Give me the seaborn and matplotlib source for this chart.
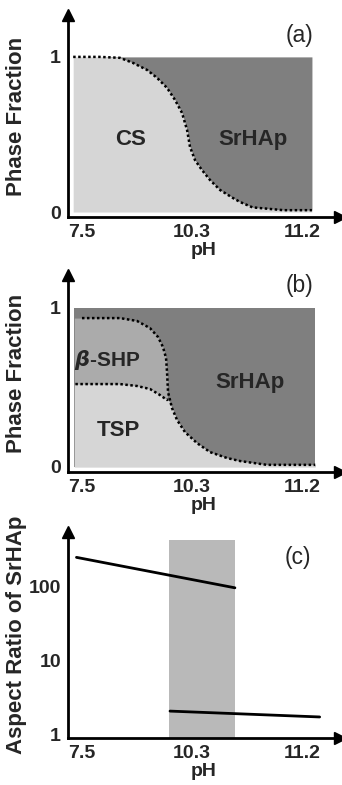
import numpy as np
import matplotlib
matplotlib.use("Agg")
import matplotlib.pyplot as plt
import seaborn as sns

# pH categories, drawn at equal spacing
ph_labels = ["7.5", "10.3", "11.2"]
ph_pos = [0, 1, 2]

# (a) CS / SrHAp boundary (x in pH-index units)
a_x = [-0.08, 0.16, 0.345, 0.464, 0.591, 0.682, 0.773, 0.845, 0.909, 0.955,
       0.982, 1.027, 1.09, 1.164, 1.255, 1.373, 1.436, 1.55, 1.83, 2.09]
a_cs = [1.0, 1.0, 0.994, 0.961, 0.916, 0.865, 0.80, 0.723, 0.639, 0.529,
        0.419, 0.335, 0.271, 0.206, 0.142, 0.09, 0.065, 0.03, 0.012, 0.012]

# (b) SrHAp boundary and TSP / beta-SHP boundary
b_x_top = [0.0, 0.164, 0.345, 0.50, 0.618, 0.691, 0.736, 0.764, 0.773, 0.782,
           0.782, 0.818, 0.864, 0.936, 1.045, 1.164, 1.318, 1.436, 1.68, 2.12]
b_top = [0.935, 0.935, 0.935, 0.917, 0.872, 0.816, 0.753, 0.684, 0.596, 0.514,
         0.425, 0.369, 0.294, 0.218, 0.149, 0.092, 0.055, 0.036, 0.012, 0.012]
b_x_low = [-0.06, 0.164, 0.345, 0.50, 0.618, 0.709, 0.773, 0.782]
b_low = [0.52, 0.52, 0.52, 0.508, 0.489, 0.451, 0.42, 0.425]

# (c) aspect ratio of SrHAp (log scale)
c1_x = [-0.05, 1.39]
c1_y = [250, 97]
c2_x = [0.80, 2.16]
c2_y = [2.1, 1.75]
band_x = [0.79, 1.39]
band_top = 430

light = "#d6d6d6"
mid = "#ababab"
dark = "#7f7f7f"
band_c = "#b9b9b9"

sns.set_style("white")
plt.rcParams["font.family"] = ["Liberation Sans", "DejaVu Sans"]
plt.rcParams["font.weight"] = "bold"

W, H = 342, 785
fig = plt.figure(figsize=(W / 100, H / 100), dpi=100)
TICK = 14
LAB = 16
DOT = (0, (1, 1))


def make_ax(x0, x1, ytop, ybot):
    return fig.add_axes([x0 / W, 1 - ybot / H, (x1 - x0) / W, (ybot - ytop) / H])


def style(ax, ylabel):
    sns.despine(ax=ax)
    for s in ["left", "bottom"]:
        ax.spines[s].set_linewidth(2)
        ax.spines[s].set_color("black")
    ax.plot(1, 0, ">k", ms=9, transform=ax.transAxes, clip_on=False)
    ax.plot(0, 1, "^k", ms=9, transform=ax.transAxes, clip_on=False)
    ax.set_xticks(ph_pos)
    ax.set_xticklabels(ph_labels, fontsize=TICK, fontweight="bold")
    ax.tick_params(length=0, pad=5)
    ax.set_xlabel("pH", fontsize=TICK, fontweight="bold", labelpad=1)
    ax.set_ylabel(ylabel, fontsize=LAB, fontweight="bold")
    ax.yaxis.set_label_coords(-0.15, 0.5)
    ax.set_xlim(-0.127, 2.345)


# ---- panel (a)
ax = make_ax(68, 340, 15, 217)
ax.fill_between(a_x, 0, a_cs, color=light, lw=0)
ax.fill_between(a_x, a_cs, 1, color=dark, lw=0)
sns.lineplot(x=a_x, y=a_cs, ax=ax, color="black", lw=1.8, linestyle=DOT, sort=False)
ax.set_ylim(-0.032, 1.27)
ax.set_yticks([0, 1])
ax.set_yticklabels(["0", "1"], fontsize=TICK, fontweight="bold")
ax.text(0.44, 0.465, "CS", fontsize=LAB, fontweight="bold", ha="center", va="center")
ax.text(1.55, 0.465, "SrHAp", fontsize=LAB, fontweight="bold", ha="center", va="center")
ax.text(1.98, 1.14, "(a)", fontsize=16.5, fontweight="normal", ha="center", va="center")
style(ax, "Phase Fraction")

# ---- panel (b)
ax = make_ax(68, 340, 275, 472)
ax.fill_between([-0.07, 2.12], 0, 1, color=dark, lw=0)
ax.fill_between([-0.07] + b_x_top, 0, [b_top[0]] + b_top, color=mid, lw=0)
low_x = [-0.07] + b_x_low + b_x_top[10:]
low_y = [b_low[0]] + b_low + b_top[10:]
ax.fill_between(low_x, 0, low_y, color=light, lw=0)
sns.lineplot(x=b_x_top, y=b_top, ax=ax, color="black", lw=1.8, linestyle=DOT, sort=False)
sns.lineplot(x=b_x_low, y=b_low, ax=ax, color="black", lw=1.8, linestyle=DOT, sort=False)
ax.set_ylim(-0.033, 1.206)
ax.set_yticks([0, 1])
ax.set_yticklabels(["0", "1"], fontsize=TICK, fontweight="bold")
ax.text(0.23, 0.67, r"$\beta$-SHP", fontsize=15, fontweight="bold", ha="center", va="center")
ax.text(0.33, 0.23, "TSP", fontsize=LAB, fontweight="bold", ha="center", va="center")
ax.text(1.53, 0.53, "SrHAp", fontsize=LAB, fontweight="bold", ha="center", va="center")
ax.text(1.98, 1.14, "(b)", fontsize=16.5, fontweight="normal", ha="center", va="center")
style(ax, "Phase Fraction")

# ---- panel (c)
ax = make_ax(68, 340, 532, 738)
ax.set_yscale("log")
ax.fill_between(band_x, 0.91, band_top, color=band_c, lw=0)
sns.lineplot(x=c1_x, y=c1_y, ax=ax, color="black", lw=2)
sns.lineplot(x=c2_x, y=c2_y, ax=ax, color="black", lw=2)
ax.set_ylim(0.91, 550)
ax.set_yticks([1, 10, 100])
ax.set_yticklabels(["1", "10", "100"], fontsize=TICK, fontweight="bold")
ax.yaxis.set_minor_locator(matplotlib.ticker.NullLocator())
ax.text(1.96, 246, "(c)", fontsize=16.5, fontweight="normal", ha="center", va="center")
style(ax, "Aspect Ratio of SrHAp")

fig.savefig("out.png", dpi=100)
